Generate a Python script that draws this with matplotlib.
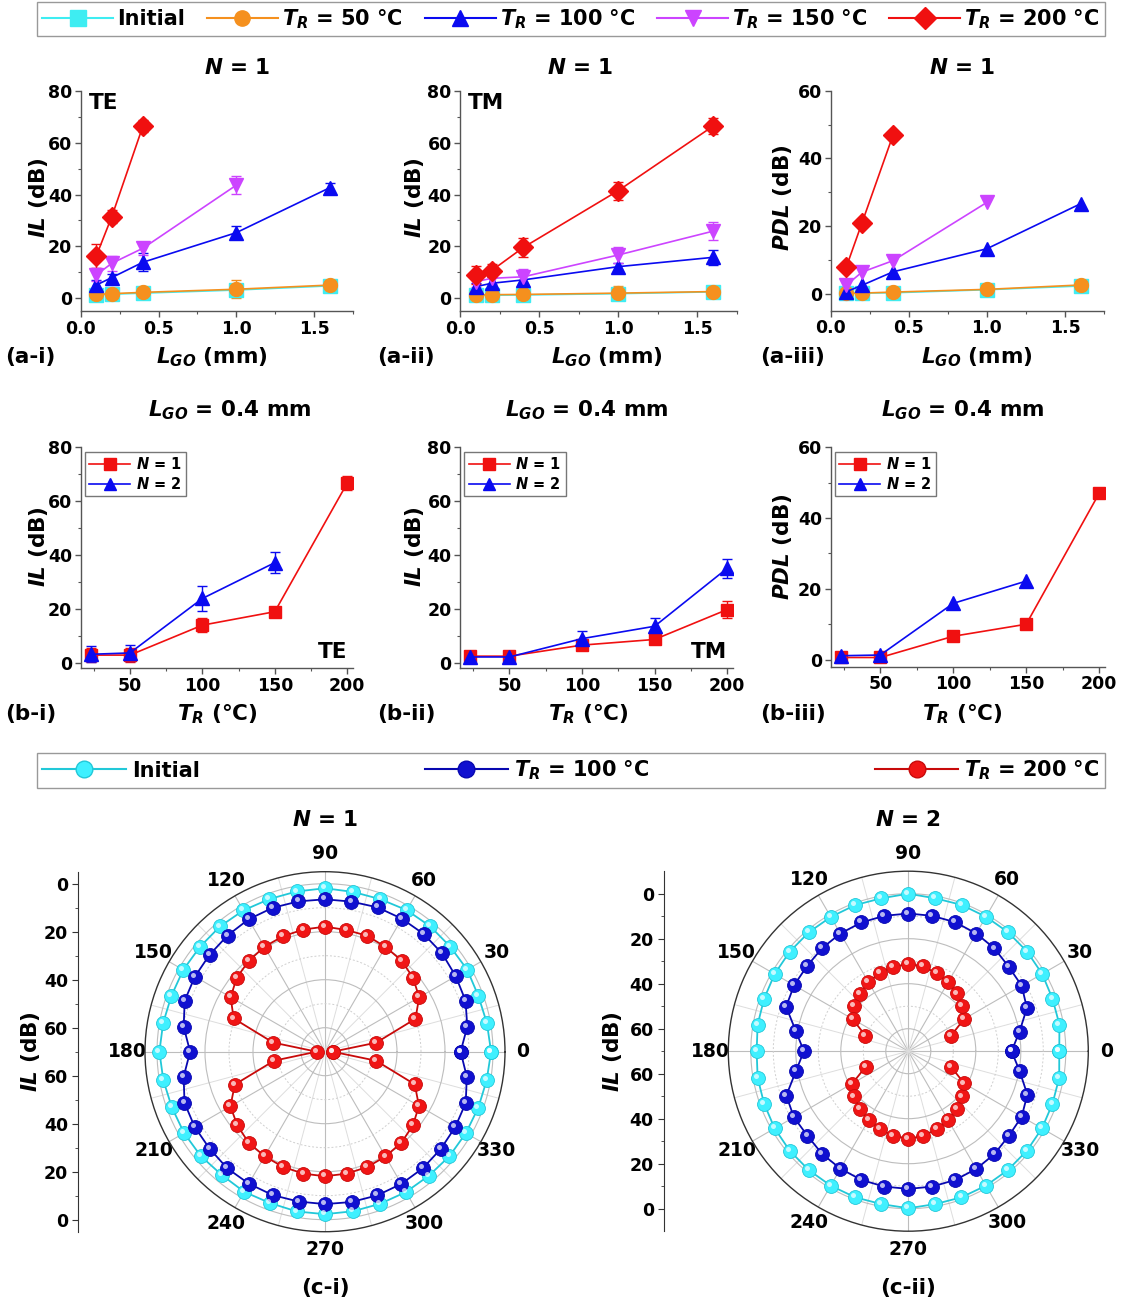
import numpy as np
import matplotlib
matplotlib.use('Agg')
import matplotlib.pyplot as plt
import matplotlib.transforms as mtrans
from matplotlib.lines import Line2D
from matplotlib.ticker import MultipleLocator, FixedLocator, FormatStrFormatter

plt.rcParams['font.family'] = ['DejaVu Sans']
plt.rcParams['font.weight'] = 'bold'
plt.rcParams['axes.labelweight'] = 'bold'
plt.rcParams['mathtext.fontset'] = 'custom'
plt.rcParams['mathtext.rm'] = 'DejaVu Sans:bold'
plt.rcParams['mathtext.it'] = 'DejaVu Sans:italic:bold'
plt.rcParams['mathtext.bf'] = 'DejaVu Sans:bold'

# ---------------- data ----------------
L_go = [0.1, 0.2, 0.4, 1.0, 1.6]

# (a-i) IL, TE
te_init = [1.3, 1.6, 2.0, 3.2, 4.8]
te_50 = [1.5, 1.8, 2.3, 3.5, 5.1]
te_100 = [5.1, 8.0, 13.9, 25.3, 42.6]
te_150 = [9.0, 13.5, 19.3, 43.6]
te_200 = [16.3, 31.5, 66.4]
te_init_err = [1.0, 1.0, 1.0, 2.5, 1.5]
te_50_err = [1.0, 1.0, 1.2, 3.5, 1.5]
te_100_err = [2.0, 1.5, 3.5, 2.5, 2.0]
te_150_err = [2.5, 3.0, 2.5, 3.5]
te_200_err = [4.5, 2.5, 2.5]

# (a-ii) IL, TM
tm_init = [1.1, 1.2, 1.3, 1.8, 2.5]
tm_50 = [1.3, 1.4, 1.5, 2.0, 2.6]
tm_100 = [4.5, 5.8, 7.1, 12.2, 15.8]
tm_150 = [6.4, 7.7, 8.3, 16.7, 25.9]
tm_200 = [9.0, 10.7, 19.6, 41.5, 66.4]
tm_init_err = [0.8, 0.8, 0.8, 2.5, 1.0]
tm_50_err = [1.0, 1.0, 1.0, 2.8, 1.2]
tm_100_err = [1.5, 2.5, 2.0, 1.5, 3.0]
tm_150_err = [2.0, 2.0, 3.0, 3.0, 3.5]
tm_200_err = [3.5, 2.5, 3.5, 3.5, 3.0]

# (a-iii) PDL
pdl_init = [0.2, 0.2, 0.3, 1.2, 2.3]
pdl_50 = [0.1, 0.2, 0.5, 1.3, 2.6]
pdl_100 = [0.6, 2.5, 6.5, 13.3, 26.6]
pdl_150 = [2.5, 6.4, 9.8, 27.0]
pdl_200 = [7.9, 20.9, 47.0]

# (b) L_GO = 0.4 mm versus T_R
T_r = [23, 50, 100, 150, 200]
b_te_n1 = [2.9, 2.9, 14.0, 19.0, 66.7]
b_te_n2 = [3.2, 3.7, 23.9, 37.2]
b_te_n1_err = [2.5, 2.5, 2.5, 1.2, 2.5]
b_te_n2_err = [3.0, 3.0, 4.5, 4.0]
b_tm_n1 = [2.5, 2.5, 6.6, 8.7, 19.8]
b_tm_n2 = [2.2, 2.2, 9.0, 13.6, 35.1]
b_tm_n1_err = [1.5, 1.5, 1.8, 1.8, 3.0]
b_tm_n2_err = [2.0, 2.0, 3.0, 3.0, 3.5]
b_pdl_n1 = [0.6, 0.6, 6.6, 10.0, 47.0]
b_pdl_n2 = [1.1, 1.3, 15.9, 22.2]

# (c) polar IL, angles 0..350 deg
pol_angle = list(range(0, 360, 10))
c1_init = [0.8, 1.5, 2.0, 1.6, 1.9, 1.8, 1.9, 2.4, 2.4, 1.9, 2.2, 2.3,
           2.0, 1.9, 2.0, 1.8, 1.9, 1.5, 1.0, 1.6, 2.1, 2.2, 2.4, 3.0,
           2.6, 2.9, 2.4, 2.3, 2.5, 2.6, 2.5, 2.6, 2.3, 2.2, 2.0, 1.6]
c1_100 = [13.5, 9.8, 7.7, 7.1, 6.3, 6.0, 6.0, 6.0, 6.5, 6.5, 6.4, 6.2,
          6.3, 6.8, 7.2, 7.4, 7.8, 10.2, 13.8, 10.2, 7.7, 7.3, 7.2, 6.6,
          6.5, 6.4, 6.6, 6.5, 6.4, 6.3, 6.4, 6.6, 7.0, 7.3, 7.6, 10.0]
c1_200 = [66.8, 48.3, 29.9, 24.7, 22.1, 20.4, 19.6, 18.6, 18.5, 17.9, 18.3, 18.8,
          19.5, 20.6, 22.0, 24.6, 29.5, 48.0, 66.5, 48.5, 30.0, 24.5, 22.3, 20.5,
          19.7, 18.9, 18.4, 18.1, 18.4, 18.8, 19.6, 20.5, 22.2, 24.8, 30.2, 48.4]
c2_init = [2.9, 1.8, 1.8, 1.3, 1.1, 1.0, 1.0, 0.8, 1.0, 0.0, 1.0, 0.9,
           1.1, 1.1, 1.2, 1.4, 1.8, 2.0, 2.6, 2.0, 1.8, 1.4, 1.2, 1.1,
           1.0, 0.9, 1.0, 0.2, 1.0, 0.9, 1.0, 1.1, 1.2, 1.4, 1.8, 1.9]
c2_100 = [24.1, 19.8, 13.9, 11.8, 11.7, 10.4, 9.6, 9.0, 8.9, 8.8, 8.9, 9.1,
          9.6, 10.3, 11.2, 11.4, 12.2, 19.3, 23.6, 19.3, 12.3, 11.3, 11.5, 10.4,
          9.7, 9.1, 8.9, 8.8, 8.9, 9.1, 9.6, 10.4, 11.6, 11.8, 13.7, 19.8]
c2_200 = [np.nan, np.nan, 49.8, 41.3, 38.6, 36.5, 34.6, 33.2, 31.7, 31.3, 31.8, 33.0,
          34.5, 36.6, 38.5, 41.4, 49.7, np.nan, np.nan, np.nan, 49.9, 41.2, 38.7, 36.4,
          34.7, 33.1, 31.8, 31.2, 31.7, 33.2, 34.5, 36.5, 38.7, 41.3, 49.8, np.nan]

# ---------------- layout helpers ----------------
W, H = 1121, 1307
fig = plt.figure(figsize=(W / 100, H / 100), dpi=100)


def rect(l, t, r, b):
    return [l / W, 1 - b / H, (r - l) / W, (b - t) / H]


def ftext(x, y, s, **kw):
    fig.text(x / W, 1 - y / H, s, **kw)


C_CYAN = '#3EEDF2'
C_ORANGE = '#F5901E'
C_BLUE = '#0A0AF0'
C_MAG = '#CC44FF'
C_RED = '#F01010'
AX_COL = '#555555'
TICK_FS = 12.5
LAB_FS = 15.5


def style_ax(ax, xlim, ylim, xmaj, xmin, ymaj, ymin, xfmt=None):
    ax.set_xlim(*xlim)
    ax.set_ylim(*ylim)
    ax.xaxis.set_major_locator(MultipleLocator(xmaj))
    ax.xaxis.set_minor_locator(MultipleLocator(xmin))
    ax.yaxis.set_major_locator(MultipleLocator(ymaj))
    ax.yaxis.set_minor_locator(MultipleLocator(ymin))
    if xfmt:
        ax.xaxis.set_major_formatter(FormatStrFormatter(xfmt))
    for s in ['top', 'right']:
        ax.spines[s].set_visible(False)
    for s in ['left', 'bottom']:
        ax.spines[s].set_color(AX_COL)
        ax.spines[s].set_linewidth(1.0)
    ax.tick_params(which='major', direction='out', length=4, width=1, pad=2,
                   labelsize=TICK_FS, color=AX_COL)
    ax.tick_params(which='minor', direction='out', length=2.5, width=0.8, color=AX_COL)
    ax.patch.set_alpha(0)


a_series = [('Initial', C_CYAN, 's'), ('50', C_ORANGE, 'o'), ('100', C_BLUE, '^'),
            ('150', C_MAG, 'v'), ('200', C_RED, 'D')]


def draw_a(ax, ys, errs):
    for (name, col, mk), y, e in zip(a_series, ys, errs):
        x = L_go[:len(y)]
        if e is None:
            ax.plot(x, y, '-', color=col, marker=mk, ms=10, lw=1.2, clip_on=False)
        else:
            ax.errorbar(x, y, yerr=e, fmt='-', color=col, marker=mk, ms=10, lw=1.2,
                        elinewidth=1.0, capsize=3.5, capthick=1.0, clip_on=False)


# ---------------- (a) row ----------------
ax1 = fig.add_axes(rect(80.7, 90.7, 353, 311.3))
draw_a(ax1, [te_init, te_50, te_100, te_150, te_200],
       [te_init_err, te_50_err, te_100_err, te_150_err, te_200_err])
style_ax(ax1, (0, 1.75), (-5, 80), 0.5, 0.25, 20, 10, '%.1f')
ax1.text(0.03, 0.99, 'TE', transform=ax1.transAxes, fontsize=LAB_FS, va='top')

ax2 = fig.add_axes(rect(460, 90.7, 737, 311.3))
draw_a(ax2, [tm_init, tm_50, tm_100, tm_150, tm_200],
       [tm_init_err, tm_50_err, tm_100_err, tm_150_err, tm_200_err])
style_ax(ax2, (0, 1.75), (-5, 80), 0.5, 0.25, 20, 10, '%.1f')
ax2.text(0.03, 0.99, 'TM', transform=ax2.transAxes, fontsize=LAB_FS, va='top')

ax3 = fig.add_axes(rect(830.7, 90.7, 1104, 310.7))
draw_a(ax3, [pdl_init, pdl_50, pdl_100, pdl_150, pdl_200], [None] * 5)
style_ax(ax3, (0, 1.75), (-5, 60), 0.5, 0.25, 20, 10, '%.1f')

for cx in [237, 580, 962]:
    ftext(cx, 68, r'$N$ = 1', fontsize=LAB_FS, ha='center', va='center')
for cx, lab in [(212, r'$L_{GO}$ (mm)'), (607, r'$L_{GO}$ (mm)'), (977, r'$L_{GO}$ (mm)')]:
    ftext(cx, 357, lab, fontsize=LAB_FS, ha='center', va='center')
for x0, lab in [(5, '(a-i)'), (377, '(a-ii)'), (760, '(a-iii)')]:
    ftext(x0, 357, lab, fontsize=LAB_FS, ha='left', va='center')
for cx, lab in [(38, r'$IL$ (dB)'), (414, r'$IL$ (dB)'), (783, r'$PDL$ (dB)')]:
    ftext(cx, 198, lab, fontsize=LAB_FS, ha='center', va='center', rotation=90)

# ---------------- (b) row ----------------


def draw_b(ax, y1, y2, e1, e2):
    if e1 is None:
        ax.plot(T_r[:len(y1)], y1, '-', color=C_RED, marker='s', ms=9, lw=1.2)
        ax.plot(T_r[:len(y2)], y2, '-', color=C_BLUE, marker='^', ms=10, lw=1.2)
    else:
        ax.errorbar(T_r[:len(y1)], y1, yerr=e1, fmt='-', color=C_RED, marker='s', ms=9, lw=1.2,
                    elinewidth=1.0, capsize=3.5)
        ax.errorbar(T_r[:len(y2)], y2, yerr=e2, fmt='-', color=C_BLUE, marker='^', ms=10, lw=1.2,
                    elinewidth=1.0, capsize=3.5)
    h = [Line2D([], [], color=C_RED, marker='s', ms=8, lw=1.2),
         Line2D([], [], color=C_BLUE, marker='^', ms=9, lw=1.2)]
    ax.legend(h, [r'$N$ = 1', r'$N$ = 2'], loc='upper left', fontsize=10.5, handlelength=2.8,
              fancybox=False, edgecolor='#777777', borderaxespad=0.3, borderpad=0.3,
              labelspacing=0.25, handletextpad=0.4, framealpha=1)


bx1 = fig.add_axes(rect(80.7, 447.3, 353, 668.3))
draw_b(bx1, b_te_n1, b_te_n2, b_te_n1_err, b_te_n2_err)
style_ax(bx1, (16, 204), (-2, 80), 50, 25, 20, 10)
bx1.text(0.98, 0.03, 'TE', transform=bx1.transAxes, fontsize=LAB_FS, ha='right', va='bottom')

bx2 = fig.add_axes(rect(460, 447.3, 733, 668.3))
draw_b(bx2, b_tm_n1, b_tm_n2, b_tm_n1_err, b_tm_n2_err)
style_ax(bx2, (16, 204), (-2, 80), 50, 25, 20, 10)
bx2.text(0.98, 0.03, 'TM', transform=bx2.transAxes, fontsize=LAB_FS, ha='right', va='bottom')

bx3 = fig.add_axes(rect(830.7, 447.3, 1105, 666.7))
draw_b(bx3, b_pdl_n1, b_pdl_n2, None, None)
style_ax(bx3, (16, 204), (-2, 60), 50, 25, 20, 10)

for cx in [230, 587, 963]:
    ftext(cx, 410, r'$L_{GO}$ = 0.4 mm', fontsize=LAB_FS, ha='center', va='center')
for cx in [217, 588, 962]:
    ftext(cx, 714, r'$T_R$ (°C)', fontsize=LAB_FS, ha='center', va='center')
for x0, lab in [(5, '(b-i)'), (377, '(b-ii)'), (760, '(b-iii)')]:
    ftext(x0, 714, lab, fontsize=LAB_FS, ha='left', va='center')
for cx, lab in [(38, r'$IL$ (dB)'), (414, r'$IL$ (dB)'), (783, r'$PDL$ (dB)')]:
    ftext(cx, 547, lab, fontsize=LAB_FS, ha='center', va='center', rotation=90)

# ---------------- (c) polar row ----------------
P_CYAN = '#3FF0FF'
P_BLUE = '#1010D0'
P_RED = '#F01515'


def sphere(ax, il, color, edge, r0):
    th = np.deg2rad(np.append(pol_angle, pol_angle[0]))
    r = r0 - np.append(il, il[0])
    ax.plot(th, r, '-', color=edge, lw=1.3, zorder=3)
    ax.plot(th, r, 'o', ms=10, mfc=color, mec=edge, mew=0.6, ls='none', zorder=4)
    hl = mtrans.offset_copy(ax.transData, fig=fig, x=-1.4, y=1.4, units='points')
    ax.plot(th, r, 'o', ms=3.6, mfc='white', mec='none', alpha=0.7, ls='none',
            transform=hl, zorder=5)


def polar_panel(cx, cy, rad, rmax, series, title, tag, axis_x, ylab_x):
    pax = fig.add_axes(rect(cx - rad, cy - rad, cx + rad, cy + rad), projection='polar')
    for il, col, edge in series:
        sphere(pax, il, col, edge, 70)
    pax.set_ylim(0, rmax)
    pax.set_yticks([10, 30, 50, 70])
    pax.set_yticklabels([])
    pax.yaxis.set_minor_locator(FixedLocator([20, 40, 60]))
    pax.set_xticks(np.deg2rad(np.arange(0, 360, 30)))
    pax.set_xticklabels([str(a) for a in range(0, 360, 30)], fontsize=13.5)
    pax.xaxis.set_minor_locator(FixedLocator(np.deg2rad(np.arange(15, 360, 30))))
    pax.grid(True, which='major', color='#bdbdbd', lw=0.8)
    pax.yaxis.grid(True, which='minor', color='#cfcfcf', lw=0.7, ls=(0, (2, 2)))
    pax.xaxis.grid(True, which='minor', color='#dddddd', lw=0.7)
    pax.tick_params(axis='x', which='major', pad=6, length=5, direction='in', color='#333333')
    pax.tick_params(axis='x', which='minor', length=4, direction='in', color='#333333')
    pax.spines['polar'].set_color('#333333')
    pax.spines['polar'].set_linewidth(1.0)

    # straight IL axis to the left of the polar plot
    lax = fig.add_axes(rect(axis_x, cy - rad, axis_x + 1, cy + rad))
    lax.set_ylim(-rmax, rmax)
    lax.set_xticks([])
    lax.set_yticks([70, 50, 30, 10, -10, -30, -50, -70])
    lax.set_yticklabels(['0', '20', '40', '60', '60', '40', '20', '0'])
    lax.yaxis.set_minor_locator(FixedLocator([60, 40, 20, 0, -20, -40, -60]))
    for s in ['top', 'right', 'bottom']:
        lax.spines[s].set_visible(False)
    lax.spines['left'].set_color('#333333')
    lax.tick_params(which='major', direction='out', length=4, pad=3, labelsize=TICK_FS,
                    color='#333333')
    lax.tick_params(which='minor', direction='out', length=2.5, color='#333333')
    lax.patch.set_alpha(0)

    ftext(ylab_x, cy, r'$IL$ (dB)', fontsize=LAB_FS, ha='center', va='center', rotation=90)
    ftext(cx, 820, title, fontsize=LAB_FS, ha='center', va='center')
    ftext(cx, 1288, tag, fontsize=LAB_FS, ha='center', va='center')


polar_panel(325, 1051.7, 180, 75,
            [(c1_init, P_CYAN, '#22C8D8'), (c1_100, P_BLUE, '#0808B0'), (c1_200, P_RED, '#C80A0A')],
            r'$N$ = 1', '(c-i)', 78, 30)
polar_panel(908.3, 1051.2, 180, 80,
            [(c2_init, P_CYAN, '#22C8D8'), (c2_100, P_BLUE, '#0808B0'), (c2_200, P_RED, '#C80A0A')],
            r'$N$ = 2', '(c-ii)', 663.5, 612)

# ---------------- legends ----------------
top_h = [Line2D([], [], color=c, marker=m, ms=11, lw=1.5) for _, c, m in a_series]
top_l = ['Initial', r'$T_R$ = 50 °C', r'$T_R$ = 100 °C', r'$T_R$ = 150 °C', r'$T_R$ = 200 °C']
fig.legend(top_h, top_l, loc='center', ncol=5, mode='expand', fontsize=15,
           bbox_to_anchor=(37 / W, 1 - 36 / H, (1105 - 37) / W, 34 / H),
           handlelength=3.4, handletextpad=0.2, columnspacing=0.3, borderaxespad=0,
           borderpad=0.25, fancybox=False, edgecolor='#999999', framealpha=1)

mid_h = [Line2D([], [], color=e, marker='o', ms=12, mfc=c, mec=e, lw=1.5)
         for c, e in [(P_CYAN, '#22C8D8'), (P_BLUE, '#0808B0'), (P_RED, '#C80A0A')]]
mid_l = ['Initial', r'$T_R$ = 100 °C', r'$T_R$ = 200 °C']
fig.legend(mid_h, mid_l, loc='center', ncol=3, mode='expand', fontsize=15,
           bbox_to_anchor=(37 / W, 1 - 788 / H, (1105 - 37) / W, 35 / H),
           handlelength=4.0, handletextpad=0.3, borderaxespad=0,
           borderpad=0.25, fancybox=False, edgecolor='#999999', framealpha=1)

fig.savefig('out.png', dpi=100)
